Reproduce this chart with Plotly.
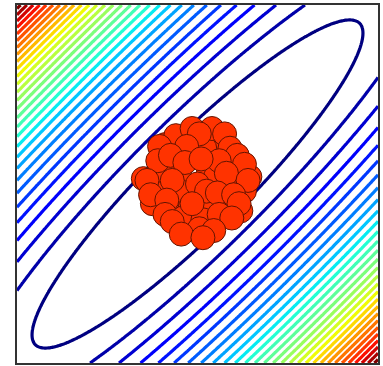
import numpy as np
import plotly.graph_objects as go

# Quadratic bowl parameters (data units): minor / major semi-axes of the level-1 ellipse
minor_axis = 0.26
major_axis = 1.27
levels_start, levels_end, levels_step = 1, 29, 1

# Scatter cluster (data coordinates)
pts_x = [-0.05, 0.14, -0.20, 0.22, -0.10, 0.06, 0.18, -0.24, 0.00, 0.12, -0.14, 0.24,
         -0.02, 0.08, -0.18, 0.16, -0.06, 0.04, -0.12, 0.20,
         -0.12, 0.08, 0.29, -0.25, -0.30, 0.15, -0.18, 0.07, 0.26, -0.10, 0.10,
         -0.03, 0.01, -0.21, -0.06, 0.18, 0.22, -0.22, -0.15, -0.07, 0.12, 0.02, 0.26,
         -0.28, -0.14, 0.00, 0.16, 0.28, -0.26, -0.17, -0.04, 0.05, 0.11, 0.20, 0.23,
         -0.18, -0.08, 0.03, 0.12, 0.19, -0.14, -0.03, 0.01, 0.09, -0.09, 0.03]
pts_y = [0.24, 0.24, 0.18, 0.08, 0.06, 0.08, -0.02, -0.02, -0.06, -0.12, -0.14, -0.15,
         -0.22, -0.23, 0.22, 0.10, 0.16, 0.20, -0.05, 0.04,
         0.27, 0.31, 0.04, -0.11, 0.03, 0.28, 0.07, -0.12, -0.04, -0.04, 0.04,
         0.31, 0.28, 0.21, 0.21, 0.20, 0.16, 0.13, 0.16, 0.12, 0.13, 0.14, 0.11,
         0.02, 0.02, 0.00, 0.06, 0.02, -0.06, -0.09, -0.13, -0.04, -0.05, -0.06, -0.11,
         -0.17, -0.19, -0.20, -0.17, -0.19, -0.21, -0.11, -0.25, -0.26, -0.28, -0.30]

# matplotlib-like jet colormap
jet_r = [(0, 0), (0.35, 0), (0.66, 1), (0.89, 1), (1, 0.5)]
jet_g = [(0, 0), (0.125, 0), (0.375, 1), (0.64, 1), (0.91, 0), (1, 0)]
jet_b = [(0, 0.5), (0.11, 1), (0.34, 1), (0.65, 0), (1, 0)]
stops = sorted(set([p[0] for p in jet_r + jet_g + jet_b]))
def interp(seg, t):
    xs = [p[0] for p in seg]; ys = [p[1] for p in seg]
    return float(np.interp(t, xs, ys))
jet = [[t, "rgb(%d,%d,%d)" % (round(255 * interp(jet_r, t)), round(255 * interp(jet_g, t)),
                               round(255 * interp(jet_b, t)))] for t in stops]

gx = np.linspace(-1, 1, 301)
gy = np.linspace(-1, 1, 301)
X, Y = np.meshgrid(gx, gy)
U = (X - Y) / np.sqrt(2)
V = (X + Y) / np.sqrt(2)
Z = (U / minor_axis) ** 2 + (V / major_axis) ** 2

fig = go.Figure()
fig.add_trace(go.Contour(
    x=gx, y=gy, z=Z,
    autocontour=False,
    contours=dict(start=levels_start, end=levels_end, size=levels_step, coloring="lines"),
    colorscale=jet, showscale=False,
    zauto=False, zmin=levels_start, zmax=levels_end,
    line=dict(width=3.2),
    hoverinfo="skip",
))
fig.add_trace(go.Scatter(
    x=pts_x, y=pts_y, mode="markers",
    marker=dict(size=24, color="rgb(255,51,0)", line=dict(color="rgb(100,20,0)", width=1)),
    showlegend=False,
))
fig.update_layout(
    width=383, height=366,
    margin=dict(l=17, r=5, t=3, b=3),
    paper_bgcolor="white", plot_bgcolor="white",
    showlegend=False,
)
axis_style = dict(range=[-1, 1], showgrid=False, zeroline=False, showticklabels=False,
                  ticks="", showline=True, mirror=True, linecolor="#333", linewidth=1.5)
fig.update_xaxes(**axis_style)
fig.update_yaxes(**axis_style)
fig.write_html("out.html")
